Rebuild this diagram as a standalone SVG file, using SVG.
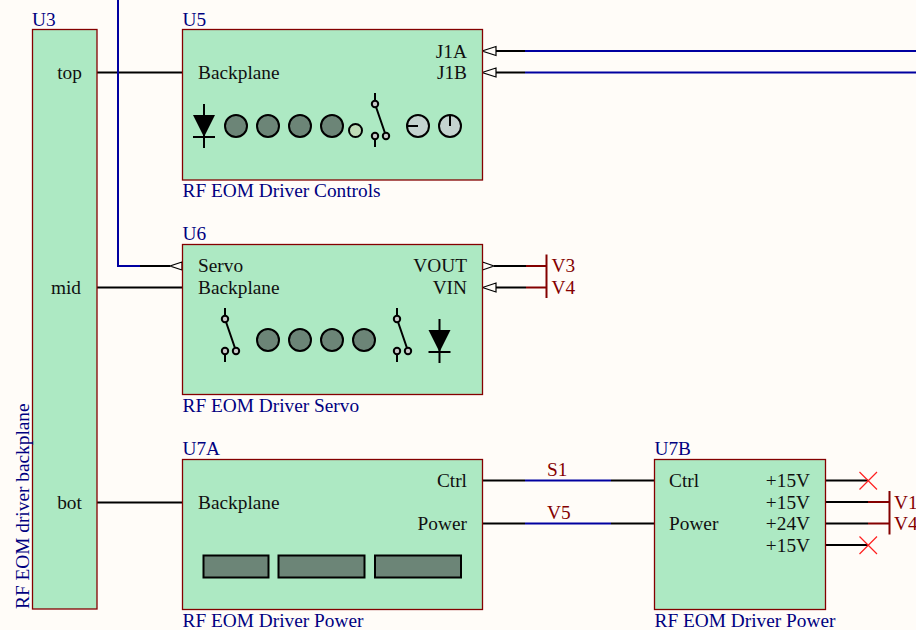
<svg xmlns="http://www.w3.org/2000/svg" width="916" height="630" viewBox="0 0 916 630">
<style>
text{font-family:"Liberation Serif","Times New Roman",serif;font-size:19.33px}
.ref{fill:#000080}.pin{fill:#101010}.net{fill:#840000}
.e{text-anchor:end}.m{text-anchor:middle}
.box{fill:#ADE9C3;stroke:#840000;stroke-width:1.3}
.w{fill:none;stroke:#000;stroke-width:2}
.b{fill:none;stroke:#0000A0;stroke-width:2}
.r{fill:none;stroke:#840000;stroke-width:2}
.x{fill:none;stroke:#FF2020;stroke-width:1.2}
.arr{fill:#FFFCF8;stroke:#000;stroke-width:1.2}
.led{fill:#6C8577;stroke:#000;stroke-width:2}
.sm{fill:#C0DDB8;stroke:#000;stroke-width:2}
.dial{fill:#C4D3CF;stroke:#000;stroke-width:2}
.sw{fill:#C8C8C8;stroke:#000;stroke-width:2}
.l{fill:none;stroke:#000;stroke-width:2}
</style>
<defs>
<g id="diode"><path class="l" d="M0-22V22M-11 11H11"/><path d="M-11-11H11L0 11Z" fill="#000"/></g>
<g id="switch"><path class="l" d="M0-27V-16M0 16V27M0-16L11 16"/><circle class="sw" cy="-16" r="3.200"/><circle class="sw" cy="16" r="3.200"/><circle class="sw" cx="11" cy="16" r="3.200"/></g>
<circle id="led" class="led" r="11"/>
<rect id="bg" width="916" height="630" fill="#FFFCF8"/>
</defs>
<use href="#bg"/>
<g id="connectors">
<path class="w" d="M97 72.500H182.500M97 287.500H182.500M97 502.500H182.500"/>
<path class="b" d="M118 0V266H140"/>
<path class="w" d="M140 266H170"/>
<path class="arr" d="M182 262L170 266L182 270Z"/>
<path class="w" d="M496 51H525M496 72.500H525"/>
<path class="b" d="M525 51H916M525 72.500H916"/>
<path class="arr" d="M482 51L496 46.500V55.500ZM482 72.500L496 68V77Z"/>
<path class="w" d="M494 266H526M496 287.500H526"/>
<path class="r" d="M526 266H546.500M526 287.500H546.500M546.500 254.500V298"/>
<path class="arr" d="M482.500 262V270L494 266ZM482.500 287.500L496 283V292Z"/>
<path class="w" d="M482.500 480.500H525M482.500 523.500H525M611 480.500H654.500M611 523.500H654.500"/>
<path class="b" d="M525 480.500H611M525 523.500H611"/>
<path class="w" d="M825.500 480.500H868M825.500 502H868M825.500 523.500H868M825.500 545H868"/>
<path class="r" d="M868 502H889.500M868 523.500H889.500M889.500 491V534.500"/>
<path class="x" d="M859.500 472L877 489.500M877 472L859.500 489.500M859.500 536.500L877 554M877 536.500L859.500 554"/>
</g>
<g id="U3">
<rect class="box" x="32.500" y="29.500" width="64.500" height="579.500"/>
<text class="ref" x="32" y="26">U3</text>
<text class="pin m" x="69.500" y="79">top</text>
<text class="pin m" x="66" y="294">mid</text>
<text class="pin m" x="69.500" y="509">bot</text>
<text class="ref" transform="translate(29 609) rotate(-90)">RF EOM driver backplane</text>
</g>
<g id="U5">
<rect class="box" x="182.500" y="29.500" width="300" height="150.500"/>
<text class="ref" x="182.500" y="26">U5</text>
<text class="pin" x="198" y="79">Backplane</text>
<text class="pin e" x="467" y="57.500">J1A</text>
<text class="pin e" x="467" y="79">J1B</text>
<use href="#diode" x="204" y="126"/>
<use href="#led" x="236" y="126"/><use href="#led" x="268" y="126"/><use href="#led" x="300" y="126"/><use href="#led" x="332" y="126"/>
<circle class="sm" cx="355.500" cy="130.500" r="6.500"/>
<use href="#switch" x="375" y="120"/>
<circle class="dial" cx="418" cy="126" r="11"/><path class="l" d="M407 126H418"/>
<circle class="dial" cx="450" cy="126" r="11"/><path class="l" d="M450 115V126"/>
<text class="ref" x="182.500" y="197">RF EOM Driver Controls</text>
</g>
<g id="U6">
<rect class="box" x="182.500" y="244.500" width="300" height="150"/>
<text class="ref" x="182.500" y="240">U6</text>
<text class="pin" x="198" y="272">Servo</text>
<text class="pin" x="198" y="294">Backplane</text>
<text class="pin e" x="467" y="272">VOUT</text>
<text class="pin e" x="467" y="294">VIN</text>
<use href="#switch" x="225" y="335"/>
<use href="#led" x="268" y="340"/><use href="#led" x="300" y="340"/><use href="#led" x="332" y="340"/><use href="#led" x="364" y="340"/>
<use href="#switch" x="397" y="335"/>
<use href="#diode" x="439.500" y="341"/>
<text class="ref" x="182.500" y="412">RF EOM Driver Servo</text>
</g>
<g id="U7A">
<rect class="box" x="182.500" y="459.500" width="300" height="150"/>
<text class="ref" x="182.500" y="455">U7A</text>
<text class="pin" x="198" y="509">Backplane</text>
<text class="pin e" x="467" y="487">Ctrl</text>
<text class="pin e" x="467" y="530">Power</text>
<rect class="led" x="203.500" y="555.500" width="65" height="22"/>
<rect class="led" x="278.500" y="555.500" width="86" height="22"/>
<rect class="led" x="375" y="555.500" width="86" height="22"/>
<text class="ref" x="182.500" y="627">RF EOM Driver Power</text>
</g>
<g id="U7B">
<rect class="box" x="654.500" y="459.500" width="171" height="150"/>
<text class="ref" x="654.500" y="455">U7B</text>
<text class="pin" x="669" y="487">Ctrl</text>
<text class="pin" x="669" y="530">Power</text>
<text class="pin e" x="810" y="487">+15V</text>
<text class="pin e" x="810" y="508.500">+15V</text>
<text class="pin e" x="810" y="530">+24V</text>
<text class="pin e" x="810" y="551.500">+15V</text>
<text class="ref" x="654.500" y="627">RF EOM Driver Power</text>
</g>
<g id="nets">
<text class="net" x="551.500" y="272">V3</text>
<text class="net" x="551.500" y="294">V4</text>
<text class="net" x="547" y="476">S1</text>
<text class="net" x="547" y="519">V5</text>
<text class="net" x="894" y="508.500">V1</text>
<text class="net" x="894" y="530">V4</text>
</g>
</svg>
